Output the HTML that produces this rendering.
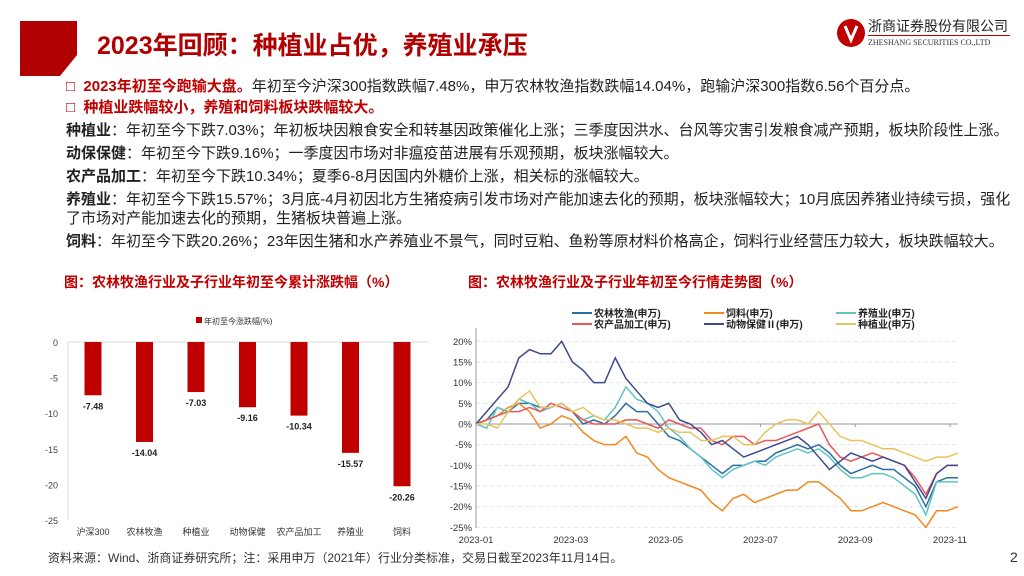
<!DOCTYPE html>
<html><head><meta charset="utf-8"><style>
body{margin:0;width:1024px;height:576px;background:#fff;position:relative;overflow:hidden;font-family:"Liberation Sans","Noto Sans CJK SC",sans-serif;}
.t{position:absolute;white-space:nowrap;font-size:15px;color:#222;}
.r{color:#c00000;font-weight:bold;}
b{font-weight:bold;}
</style></head><body>
<svg style="position:absolute;left:0;top:0" width="90" height="80"><polygon points="20,21 77,21 77,55 60,76 20,76" fill="#b00000"/></svg>
<div class="t" style="left:97px;top:26px;font-size:25px;font-weight:bold;color:#b00000">2023年回顾：种植业占优，养殖业承压</div>
<div style="position:absolute;left:836px;top:14px;width:180px;height:36px">
<svg width="30" height="30" style="position:absolute;left:0;top:4px"><circle cx="15" cy="15" r="14" fill="#c00000"/><path d="M9 8 L15 22 L21 8" stroke="#fff" stroke-width="3" fill="none"/></svg>
<div style="position:absolute;left:32px;top:2px;font-size:14px;color:#222;white-space:nowrap">浙商证券股份有限公司</div>
<div style="position:absolute;left:32px;top:21px;width:142px;height:1px;background:#c00000"></div>
<div style="position:absolute;left:32px;top:24px;font-size:8px;font-family:'Liberation Serif',serif;color:#333;white-space:nowrap">ZHESHANG SECURITIES CO.,LTD</div>
</div>
<div class="t" style="left:66px;top:75px"><span class="r">□&nbsp; 2023年初至今跑输大盘。</span>年初至今沪深300指数跌幅7.48%，申万农林牧渔指数跌幅14.04%，跑输沪深300指数6.56个百分点。</div>
<div class="t r" style="left:66px;top:96px">□&nbsp; 种植业跌幅较小，养殖和饲料板块跌幅较大。</div>
<div class="t" style="left:66px;top:119px"><b>种植业</b>：年初至今下跌7.03%；年初板块因粮食安全和转基因政策催化上涨；三季度因洪水、台风等灾害引发粮食减产预期，板块阶段性上涨。</div>
<div class="t" style="left:66px;top:142px"><b>动保保健</b>：年初至今下跌9.16%；一季度因市场对非瘟疫苗进展有乐观预期，板块涨幅较大。</div>
<div class="t" style="left:66px;top:165px"><b>农产品加工</b>：年初至今下跌10.34%；夏季6-8月因国内外糖价上涨，相关标的涨幅较大。</div>
<div class="t" style="left:66px;top:188px"><b>养殖业</b>：年初至今下跌15.57%；3月底-4月初因北方生猪疫病引发市场对产能加速去化的预期，板块涨幅较大；10月底因养猪业持续亏损，强化</div>
<div class="t" style="left:66px;top:207px">了市场对产能加速去化的预期，生猪板块普遍上涨。</div>
<div class="t" style="left:66px;top:230px"><b>饲料</b>：年初至今下跌20.26%；23年因生猪和水产养殖业不景气，同时豆粕、鱼粉等原材料价格高企，饲料行业经营压力较大，板块跌幅较大。</div>
<div class="t r" style="left:64px;top:272px;font-size:14px">图：农林牧渔行业及子行业年初至今累计涨跌幅（%）</div>
<div class="t r" style="left:468px;top:272px;font-size:14px">图：农林牧渔行业及子行业年初至今行情走势图（%）</div>
<svg id="bar" style="position:absolute;left:0;top:0" width="450" height="550"></svg>
<svg id="line" style="position:absolute;left:0;top:0" width="1024" height="550"></svg>
<div class="t" style="left:48px;top:549px;font-size:12px;color:#333">资料来源：Wind、浙商证券研究所；注：采用申万（2021年）行业分类标准，交易日截至2023年11月14日。</div>
<div class="t" style="left:1010px;top:549px;font-size:14px;color:#333">2</div>
<script>
const barCats=["沪深300","农林牧渔","种植业","动物保健","农产品加工","养殖业","饲料"];
const barVals=[-7.48,-14.04,-7.03,-9.16,-10.34,-15.57,-20.26];
const barTicks=[0,-5,-10,-15,-20,-25];
const lineDates=["2023-01","2023-03","2023-05","2023-07","2023-09","2023-11"];
const lineTicks=[20,15,10,5,0,-5,-10,-15,-20,-25];
const sNames=["农林牧渔(申万)","饲料(申万)","养殖业(申万)","农产品加工(申万)","动物保健Ⅱ(申万)","种植业(申万)"];
const sColors=["#2a6fa0","#f5871f","#5ec4c4","#e8575a","#3d4a8f","#e8c35a"];
const sNLFY=[0,1,4,3,5,5,4,4,5,3,0,1,0,2,5,3,3,0,-3,-4,-6,-8,-10,-12,-10,-10,-9,-9,-7,-6,-5,-6,-5,-7,-10,-12,-11,-10,-11,-11,-13,-15,-20,-14,-13,-13];
const sFeed=[0,1,2,4,5,3,-1,0,2,1,-2,-4,-5,-5,-3,-7,-8,-11,-13,-14,-15,-16,-19,-21,-18,-17,-19,-18,-17,-16,-16,-14,-14,-16,-18,-21,-21,-20,-19,-20,-21,-22,-25,-21,-21,-20];
const sBreed=[0,-1,4,3,6,5,3,4,5,3,1,2,1,4,9,6,5,3,-1,-3,-6,-8,-11,-13,-11,-10,-9,-10,-8,-7,-6,-7,-6,-8,-11,-13,-13,-12,-12,-13,-15,-17,-22,-14,-14,-14];
const sProc=[0,1,2,3,3,4,3,5,4,3,1,0,0,0,1,1,0,-1,1,0,-1,-1,-4,-5,-3,-3,-5,-4,-4,-3,-2,-1,0,-5,-8,-9,-8,-7,-8,-9,-10,-13,-17,-12,-10,-10];
const sHealth=[0,3,6,9,16,18,17,17,20,15,13,10,10,16,11,8,5,4,5,1,0,-2,-5,-4,-6,-8,-7,-6,-5,-4,-3,-5,-8,-11,-9,-7,-8,-9,-8,-9,-10,-14,-18,-12,-10,-10];
const sPlant=[0,0,-1,3,6,8,4,4,5,3,4,2,1,1,0,-1,-1,-2,-1,-2,-2,-4,-4,-3,-3,-5,-5,-2,0,1,1,0,3,0,-3,-4,-4,-5,-6,-6,-7,-8,-9,-8,-8,-7];
const series=[sNLFY,sFeed,sBreed,sProc,sHealth,sPlant];
const NS="http://www.w3.org/2000/svg";
function mk(p,t,a,txt){const e=document.createElementNS(NS,t);for(const k in a)e.setAttribute(k,a[k]);if(txt!==undefined)e.textContent=txt;p.appendChild(e);return e;}
// bar chart
const bar=document.getElementById('bar');
const by=v=>342+(-v)/25*178, bx=i=>93+i*51.5;
mk(bar,'line',{x1:68,y1:342,x2:428,y2:342,stroke:'#d9d9d9'});
mk(bar,'line',{x1:68,y1:342,x2:68,y2:520,stroke:'#d9d9d9'});
barTicks.forEach(t=>{const e=mk(bar,'text',{x:58,y:by(t)+4,'text-anchor':'end','font-size':9,fill:'#444'},String(t));

});
const lg=mk(bar,'rect',{x:196,y:317,width:6,height:6,fill:'#c00000'});


mk(bar,'text',{x:204,y:324,'font-size':8,fill:'#333'},'年初至今涨跌幅(%)');
barVals.forEach((v,i)=>{
const r=mk(bar,'rect',{x:bx(i)-8.5,y:342,width:17,height:by(v)-342,fill:'#c00000'});


const l=mk(bar,'text',{x:bx(i),y:by(v)+14,'text-anchor':'middle','font-size':9,'font-weight':'bold',fill:'#222'},v.toFixed(2));


const c=mk(bar,'text',{x:bx(i),y:535,'text-anchor':'middle','font-size':9,fill:'#333'},barCats[i]);


});
// line chart
const ln=document.getElementById('line');
const X0=476,X1=958, ly=v=>424-v*4.133, lx=i=>X0+i*(X1-X0)/45;
lineTicks.forEach(t=>{
if(t!==0)mk(ln,'line',{x1:X0,y1:ly(t),x2:X1,y2:ly(t),stroke:'#e6e6e6','stroke-dasharray':'4,3'});
const e=mk(ln,'text',{x:472,y:ly(t)+3.5,'text-anchor':'end','font-size':9.5,fill:'#333'},t+'%');

});
mk(ln,'line',{x1:X0,y1:328,x2:X0,y2:528,stroke:'#999'});
mk(ln,'line',{x1:X0,y1:ly(0),x2:X1,y2:ly(0),stroke:'#999'});
lineDates.forEach((d,i)=>{const x=X0+i*(950-X0)/5;
mk(ln,'line',{x1:x,y1:ly(0),x2:x,y2:ly(0)+3,stroke:'#999'});
const e=mk(ln,'text',{x:x,y:543,'text-anchor':'middle','font-size':9.5,fill:'#333'},d);

});
series.forEach((s,k)=>{
const p=mk(ln,'polyline',{points:s.map((v,i)=>lx(i)+','+ly(v)).join(' '),fill:'none',stroke:sColors[k],'stroke-width':1.5});


const lxp=[572,704,836][k%3], lyp=313+Math.floor(k/3)*11;
const g=mk(ln,'line',{x1:lxp,y1:lyp,x2:lxp+20,y2:lyp,stroke:sColors[k],'stroke-width':2});


mk(ln,'text',{x:lxp+22,y:lyp+4,'font-size':10,'font-weight':'bold',fill:'#222'},sNames[k]);
});
</script>
</body></html>
